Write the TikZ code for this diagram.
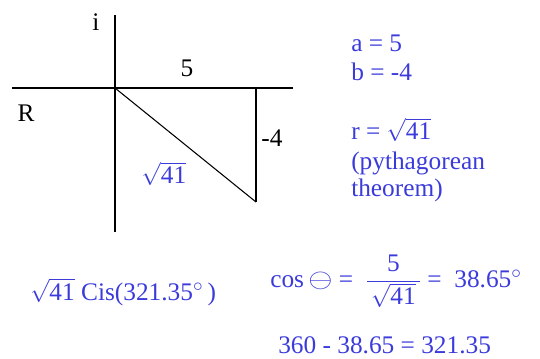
\documentclass[tikz,border=0pt]{standalone}
\usepackage{fontspec}
\setmainfont{Liberation Serif}
\newfontfamily\notefont{Liberation Serif}
\usepackage{xcolor}
\definecolor{ink}{HTML}{3B3BDB}

\begin{document}
\begin{tikzpicture}[x=0.75pt,y=-0.75pt,
    lbl/.style={font=\notefont\fontsize{19}{22}\selectfont,inner sep=0pt},
    note/.style={lbl,text=ink,anchor=west},
    axis/.style={line width=1.4pt}]
  \useasboundingbox (0,0) rectangle (540,358);
  % axes and triangle
  \coordinate (O) at (115,88);
  \coordinate (itop) at (115,15);
  \coordinate (ibot) at (115,232);
  \coordinate (rleft) at (12,88);
  \coordinate (rright) at (293,88);
  \coordinate (P) at (256,88);
  \coordinate (Q) at (256,202);
  \draw[axis] (itop) -- (ibot);
  \draw[axis] (rleft) -- (rright);
  \draw[axis] (P) -- (Q);
  \draw[line width=0.8pt] (O) -- (Q);
  \node[lbl] (imag) at (96,22) {i};
  \node[lbl] (real) at (26,113) {R};
  \node[lbl] (side5) at (187,68) {5};
  \node[lbl] (side4) at (272,138) {-4};
  \node[lbl,text=ink] (hyp) at (164,174) {$\sqrt{\mbox{41}}$};
  % working on the right
  \node[note] (a) at (351,43) {a = 5};
  \node[note] (b) at (351,72) {b = -4};
  \node[note] (r) at (351,130) {r = $\sqrt{\mbox{41}}$};
  \node[note] (py1) at (351,163) {(pythagorean};
  \node[note] (py2) at (351,190) {theorem)};
  % polar form and angle
  \node[note] (cis) at (30,292) {$\sqrt{\mbox{41}}$ Cis(321.35$^{\circ}$\,)};
  \node[note] (cos) at (270,281)
    {cos\,\scalebox{1.35}[1.15]{$\ominus$} = \ $\displaystyle\frac{\mbox{5}}{\,\sqrt{\mbox{41}}\,}$ = \ 38.65$^{\circ}$};
  \node[note] (diff) at (278,345) {360 - 38.65 = 321.35};
\end{tikzpicture}
\end{document}
